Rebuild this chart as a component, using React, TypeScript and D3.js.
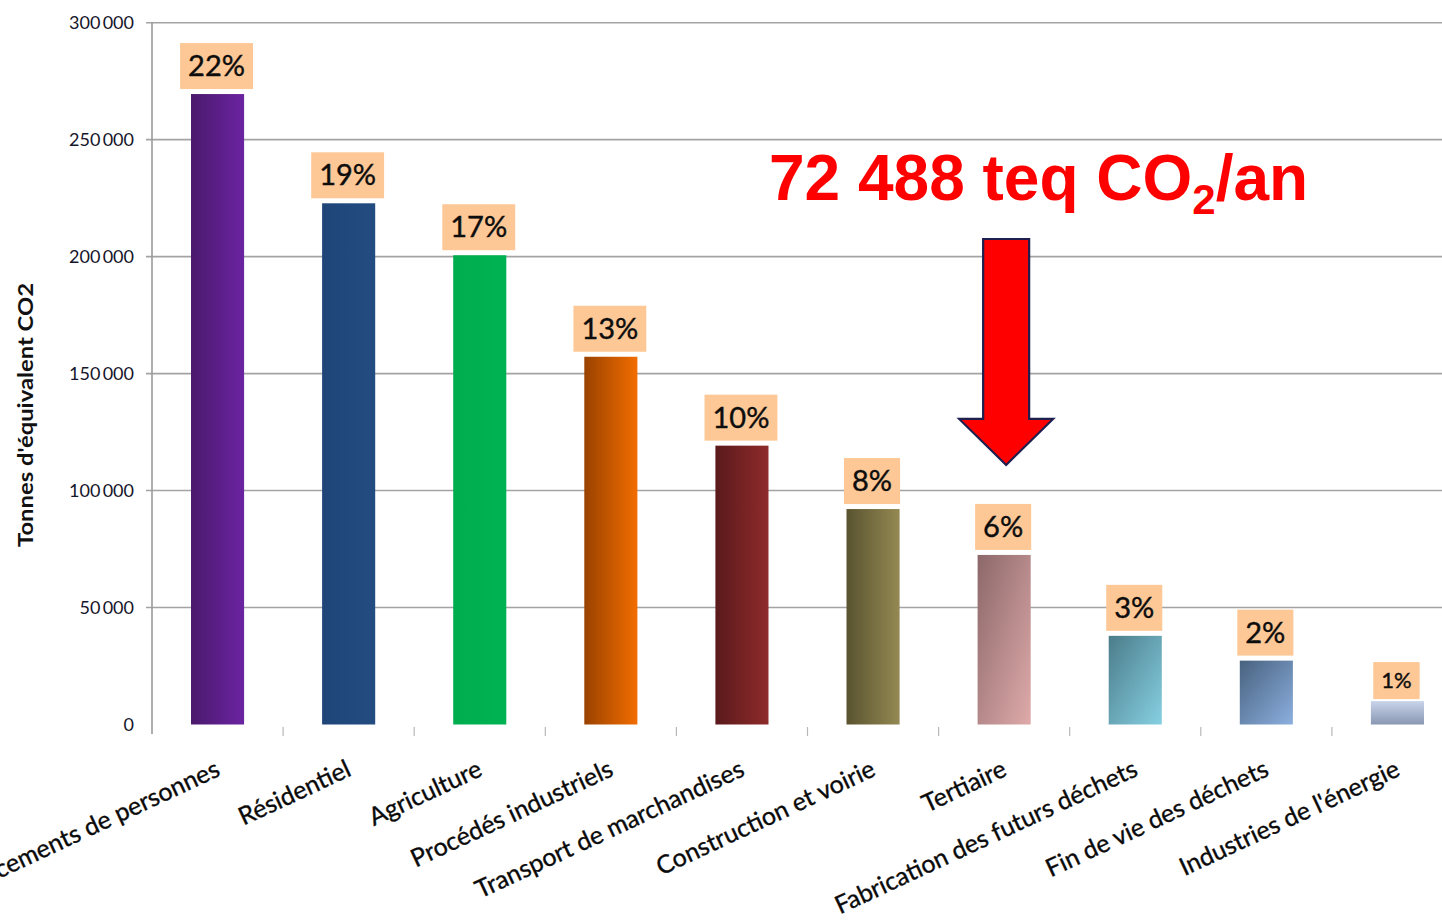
import React, { useEffect, useRef } from "react";
import * as d3 from "d3";

// Emission sectors, in descending order of annual emissions
const categories = [
  "Déplacements de personnes",
  "Résidentiel",
  "Agriculture",
  "Procédés industriels",
  "Transport de marchandises",
  "Construction et voirie",
  "Tertiaire",
  "Fabrication des futurs déchets",
  "Fin de vie des déchets",
  "Industries de l'énergie",
];

// Tonnes CO2-equivalent per year
const emissions = [269500, 222800, 200600, 157200, 119200, 92100, 72488, 37900, 27300, 10000];

// Share of total shown above each bar
const shareLabels = ["22%", "19%", "17%", "13%", "10%", "8%", "6%", "3%", "2%", "1%"];

const yTicks = [0, 50000, 100000, 150000, 200000, 250000, 300000];

// Bar fills: [start colour, end colour, direction]
const barFills: [string, string, string][] = [
  ["#4a196c", "#6b24a2", "h"],
  ["#1f4578", "#234c81", "h"],
  ["#00ad4e", "#00b352", "h"],
  ["#9a4200", "#f26d00", "h"],
  ["#5a191b", "#8f2b2b", "h"],
  ["#59532f", "#948953", "h"],
  ["#8c686a", "#dfaaaa", "d"],
  ["#4b7c8a", "#86d0e2", "d"],
  ["#48627f", "#8cafdf", "d"],
  ["#c8d4ea", "#8997b3", "v"],
];

const highlightIndex = 6;
const yAxisTitle = "Tonnes d'équivalent CO2";

const fmtThousands = d3
  .formatLocale({ decimal: ",", thousands: "\u2009", grouping: [3], currency: ["", " €"] })
  .format(",");
const fmtAnnotation = d3
  .formatLocale({ decimal: ",", thousands: " ", grouping: [3], currency: ["", " €"] })
  .format(",");

const W = 1442;
const H = 920;

export default function App() {
  const ref = useRef<SVGSVGElement | null>(null);

  useEffect(() => {
    const svg = d3.select(ref.current);
    svg.selectAll("*").remove();

    const x = d3
      .scaleBand<string>()
      .domain(categories)
      .range([152, 1463])
      .paddingInner(0.595)
      .paddingOuter(0.2975);
    const y = d3.scaleLinear().domain([0, 300000]).range([724.5, 22.7]);

    const defs = svg.append("defs");
    barFills.forEach(([c0, c1, dir], i) => {
      const g = defs
        .append("linearGradient")
        .attr("id", `bar-grad-${i}`)
        .attr("x1", 0)
        .attr("y1", 0)
        .attr("x2", dir === "v" ? 0 : 1)
        .attr("y2", dir === "h" ? 0 : 1);
      g.append("stop").attr("offset", "0%").attr("stop-color", c0);
      g.append("stop").attr("offset", "100%").attr("stop-color", c1);
    });

    // Gridlines and y ticks
    const grid = svg.append("g");
    grid
      .selectAll("line")
      .data(yTicks.filter((t) => t > 0))
      .join("line")
      .attr("x1", 146)
      .attr("x2", W)
      .attr("y1", (d) => y(d))
      .attr("y2", (d) => y(d))
      .attr("stroke", "#a3a3a3")
      .attr("stroke-width", 1.6);

    grid
      .selectAll("text")
      .data(yTicks)
      .join("text")
      .attr("x", 134)
      .attr("y", (d) => y(d))
      .attr("dy", "0.36em")
      .attr("text-anchor", "end")
      .attr("font-family", "Lato, sans-serif")
      .attr("font-size", 18)
      .attr("fill", "#15152b")
      .text((d) => fmtThousands(d));

    // Y axis line
    svg
      .append("line")
      .attr("x1", 152)
      .attr("x2", 152)
      .attr("y1", y(300000))
      .attr("y2", 734)
      .attr("stroke", "#9a9a9a")
      .attr("stroke-width", 1.6);

    // Category boundary ticks
    svg
      .append("g")
      .selectAll("line")
      .data(categories.slice(1))
      .join("line")
      .attr("x1", (d) => (x(d) as number) - (x.step() * x.paddingInner()) / 2)
      .attr("x2", (d) => (x(d) as number) - (x.step() * x.paddingInner()) / 2)
      .attr("y1", 727)
      .attr("y2", 736)
      .attr("stroke", "#b8b8b8")
      .attr("stroke-width", 1.2);

    // Bars
    svg
      .append("g")
      .selectAll("rect")
      .data(emissions)
      .join("rect")
      .attr("x", (_, i) => x(categories[i]) as number)
      .attr("width", x.bandwidth())
      .attr("y", (d) => y(d))
      .attr("height", (d) => y(0) - y(d))
      .attr("fill", (_, i) => `url(#bar-grad-${i})`);

    // Share labels in peach boxes
    const labels = svg.append("g");
    emissions.forEach((v, i) => {
      const cx = (x(categories[i]) as number) + x.bandwidth() / 2 - 1;
      const small = shareLabels[i] === "1%";
      const boxH = small ? 37 : 46;
      const boxBottom = y(v) - (small ? 2 : 5);
      const g = labels.append("g");
      const rect = g.append("rect").attr("fill", "#fdc896");
      const t = g
        .append("text")
        .attr("x", cx)
        .attr("y", boxBottom - (small ? 11 : 13))
        .attr("text-anchor", "middle")
        .attr("font-family", "Lato, sans-serif")
        .attr("font-size", small ? 22 : 29)
        .attr("fill", "#0d0d0d")
        .attr("stroke", "#0d0d0d")
        .attr("stroke-width", 0.4)
        .text(shareLabels[i]);
      const bw = (t.node() as SVGTextElement).getComputedTextLength();
      const pad = small ? 8 : 8;
      rect
        .attr("x", cx - bw / 2 - pad)
        .attr("width", bw + 2 * pad)
        .attr("y", boxBottom - boxH)
        .attr("height", boxH);
    });

    // Category labels, rotated
    svg
      .append("g")
      .selectAll("text")
      .data(categories)
      .join("text")
      .attr(
        "transform",
        (d) => `translate(${(x(d) as number) + x.bandwidth() / 2 + 4},775) rotate(-25)`
      )
      .attr("text-anchor", "end")
      .attr("font-family", "Lato, sans-serif")
      .attr("font-size", 25)
      .attr("fill", "#0a0a0a")
      .attr("stroke", "#0a0a0a")
      .attr("stroke-width", 0.35)
      .text((d) => d);

    // Y axis title
    svg
      .append("text")
      .attr("transform", "translate(33,415) rotate(-90)")
      .attr("text-anchor", "middle")
      .attr("font-family", "Lato, sans-serif")
      .attr("font-weight", 700)
      .attr("font-size", 20)
      .attr("textLength", 264)
      .attr("lengthAdjust", "spacingAndGlyphs")
      .attr("fill", "#111")
      .text(yAxisTitle);

    // Highlight annotation for the tertiary sector
    const hx = (x(categories[highlightIndex]) as number) + x.bandwidth() / 2 + 2;
    const tipY = y(emissions[highlightIndex]) - 90;
    const arrow = d3.path();
    arrow.moveTo(hx - 23, 239);
    arrow.lineTo(hx + 23, 239);
    arrow.lineTo(hx + 23, tipY - 46);
    arrow.lineTo(hx + 47, tipY - 46);
    arrow.lineTo(hx, tipY);
    arrow.lineTo(hx - 47, tipY - 46);
    arrow.lineTo(hx - 23, tipY - 46);
    arrow.closePath();
    svg
      .append("path")
      .attr("d", arrow.toString())
      .attr("fill", "#ff0000")
      .attr("stroke", "#1e1f4e")
      .attr("stroke-width", 2.2)
      .attr("stroke-linejoin", "miter");

    const ann = svg
      .append("text")
      .attr("x", 769)
      .attr("y", 200)
      .attr("font-family", "'Liberation Sans', Arial, sans-serif")
      .attr("font-weight", 700)
      .attr("font-size", 64)
      .attr("fill", "#ff0000");
    ann.append("tspan").text(`${fmtAnnotation(emissions[highlightIndex])} teq CO`);
    ann.append("tspan").attr("font-size", 42).attr("dy", 14).text("2");
    ann.append("tspan").attr("dy", -14).text("/an");
  }, []);

  return (
    <svg
      ref={ref}
      width={W}
      height={H}
      viewBox={`0 0 ${W} ${H}`}
      style={{ position: "absolute", left: 0, top: 0, background: "#fff" }}
    />
  );
}
